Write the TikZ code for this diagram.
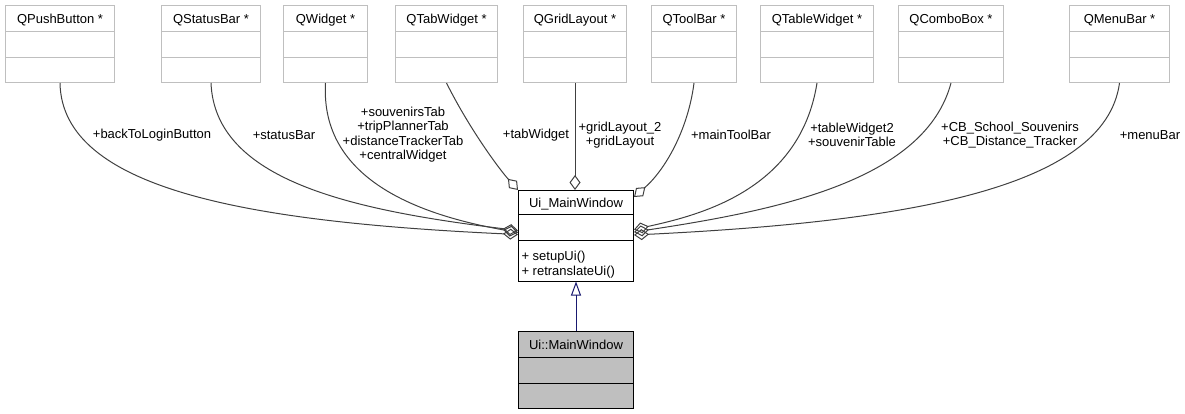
\documentclass[tikz,border=0pt]{standalone}
\usepackage{fontspec}
\setmainfont{Liberation Sans}
\usetikzlibrary{shapes.multipart,arrows.meta}
\definecolor{boxgray}{HTML}{BFBFBF}
\definecolor{edgegray}{HTML}{404040}
\definecolor{inhblue}{HTML}{191970}
\newcommand{\tstrut}{\rule[-7.5pt]{0pt}{25pt}}
\newcommand{\estrut}{\rule{0pt}{24.5pt}}
\tikzset{
  cls/.style={rectangle split, rectangle split parts=3, draw=boxgray, line width=1pt,
    inner xsep=3pt, inner ysep=0pt, minimum width=#1, anchor=north west,
    font=\fontsize{13}{14.5}\selectfont},
  aggr/.style={draw=edgegray, line width=1pt, -{Diamond[open,length=15pt,width=11pt]}},
  inh/.style={draw=inhblue, line width=1pt, -{Triangle[open,length=14pt,width=10pt]}},
  lbl/.style={font=\fontsize{13}{14.5}\selectfont, align=center, inner sep=0pt},
}

\begin{document}
\begin{tikzpicture}[x=1pt,y=-1pt]
  \useasboundingbox (0,0) rectangle (1185,413);
  % Define nodes
  \node[cls=109pt] (pushbtn) at (5,5) {\tstrut QPushButton *\nodepart{two}\estrut\nodepart{three}\estrut};
  \node[cls=99pt]  (statbar) at (161,5) {\tstrut QStatusBar *\nodepart{two}\estrut\nodepart{three}\estrut};
  \node[cls=84pt]  (widget) at (283,5) {\tstrut QWidget *\nodepart{two}\estrut\nodepart{three}\estrut};
  \node[cls=102pt] (tabwid) at (395,5) {\tstrut QTabWidget *\nodepart{two}\estrut\nodepart{three}\estrut};
  \node[cls=103pt] (gridlay) at (523,5) {\tstrut QGridLayout *\nodepart{two}\estrut\nodepart{three}\estrut};
  \node[cls=85pt]  (toolbar) at (651,5) {\tstrut QToolBar *\nodepart{two}\estrut\nodepart{three}\estrut};
  \node[cls=113pt] (tablewid) at (760,5) {\tstrut QTableWidget *\nodepart{two}\estrut\nodepart{three}\estrut};
  \node[cls=105pt] (combo) at (898,5) {\tstrut QComboBox *\nodepart{two}\estrut\nodepart{three}\estrut};
  \node[cls=100pt] (menubar) at (1069,5) {\tstrut QMenuBar *\nodepart{two}\estrut\nodepart{three}\estrut};

  \node[cls=115pt, draw=black, rectangle split part align={center,center,left}] (uimw) at (518,190)
    {\rule[-6.5pt]{0pt}{23pt}Ui\_MainWindow\nodepart{two}\rule{0pt}{25pt}
     \nodepart{three}\rule[-12.5pt]{0pt}{39.5pt}\begin{tabular}{@{}l@{}}+ setupUi()\\+ retranslateUi()\end{tabular}};
  \node[cls=115pt, draw=black, fill=boxgray] (mainwin) at (518,331)
    {\tstrut Ui::MainWindow\nodepart{two}\estrut\nodepart{three}\estrut};

  % Labels
  \node[lbl] (lpush) at (152,135) {+backToLoginButton};
  \node[lbl] (lstat) at (284,135) {+statusBar};
  \node[lbl] (lwidget) at (403,134.5) {+souvenirsTab\\+tripPlannerTab\\+distanceTrackerTab\\+centralWidget};
  \node[lbl] (ltab) at (536,135) {+tabWidget};
  \node[lbl] (lgrid) at (620,135) {+gridLayout\_2\\+gridLayout};
  \node[lbl] (ltool) at (731,135) {+mainToolBar};
  \node[lbl] (ltable) at (852,135) {+tableWidget2\\+souvenirTable};
  \node[lbl] (lcombo) at (1010,135) {+CB\_School\_Souvenirs\\+CB\_Distance\_Tracker};
  \node[lbl] (lmenu) at (1150,135) {+menuBar};

  % Connect the nodes
  \draw[aggr] (pushbtn.south) .. controls (62,190) and (250,222) .. ([yshift=6pt]uimw.two split west);
  \draw[aggr] (statbar.south) .. controls (215,180) and (350,210) .. ([yshift=10pt]uimw.two split west);
  \draw[aggr] (widget.south) .. controls (320,180) and (420,215) .. ([yshift=8pt]uimw.two split west);
  \draw[aggr] (tabwid.south) .. controls (470,130) and (500,170) .. (uimw.north west);
  \draw[aggr] (gridlay.south) -- (gridlay.south |- uimw.north);
  \draw[aggr] (toolbar.south) .. controls (688,130) and (665,170) .. ([yshift=-7pt]uimw.north east);
  \draw[aggr] (tablewid.south) .. controls (800,190) and (700,215) .. ([yshift=11pt]uimw.two split east);
  \draw[aggr] (combo.south) .. controls (925,180) and (780,210) .. ([yshift=8.5pt]uimw.two split east);
  \draw[aggr] (menubar.south) .. controls (1105,190) and (900,222) .. ([yshift=5.5pt]uimw.two split east);
  \draw[inh] (mainwin.north) -- (uimw.south);
\end{tikzpicture}
\end{document}
